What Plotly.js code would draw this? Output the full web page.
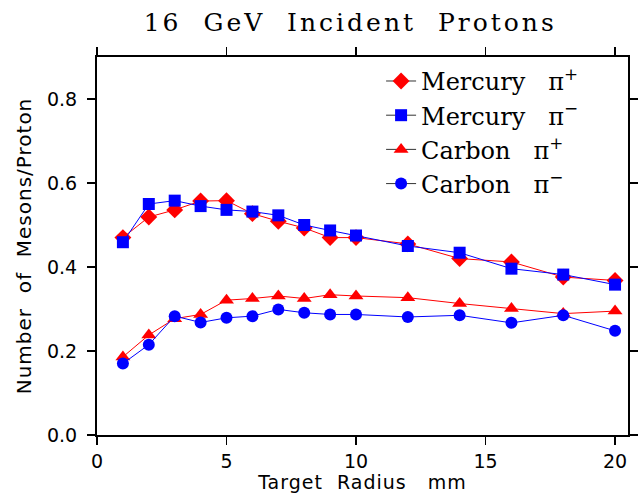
<!DOCTYPE html>
<html>
<head>
<meta charset="utf-8">
<script src="https://cdn.plot.ly/plotly-3.0.1.min.js"></script>
<style>
html,body{margin:0;padding:0;background:#fff;}
#chart{width:638px;height:493px;}
#chart .gtitle{letter-spacing:3px;}
#chart .xtitle, #chart .ytitle{letter-spacing:1px;}
</style>
</head>
<body>
<div id="chart"></div>
<script>
var radius = [1, 2, 3, 4, 5, 6, 7, 8, 9, 10, 12, 14, 16, 18, 20];
var mercuryPiPlus  = [0.470, 0.519, 0.536, 0.557, 0.558, 0.527, 0.509, 0.493, 0.470, 0.470, 0.455, 0.420, 0.412, 0.376, 0.368];
var mercuryPiMinus = [0.459, 0.550, 0.558, 0.545, 0.536, 0.532, 0.523, 0.500, 0.487, 0.475, 0.450, 0.434, 0.396, 0.382, 0.358];
var carbonPiPlus   = [0.186, 0.238, 0.277, 0.287, 0.321, 0.325, 0.331, 0.325, 0.334, 0.331, 0.327, 0.313, 0.301, 0.289, 0.295];
var carbonPiMinus  = [0.170, 0.215, 0.283, 0.268, 0.279, 0.283, 0.299, 0.291, 0.287, 0.287, 0.281, 0.285, 0.267, 0.285, 0.248];
var seriesNames = ["Mercury   π<sup>+</sup>", "Mercury   π<sup>−</sup>", "Carbon   π<sup>+</sup>", "Carbon   π<sup>−</sup>"];
var xTicks = [0, 5, 10, 15, 20];
var xTickText = ['0', '5', '10', '15', '20'];
var yTicks = [0, 0.2, 0.4, 0.6, 0.8];
var yTickText = ['0.0', '0.2', '0.4', '0.6', '0.8'];

var RED = '#ff0000', BLUE = '#0000ff';
function mk(y, color, symbol, size) {
  return {x: radius, y: y, mode: 'lines+markers', type: 'scatter', showlegend: false,
    line: {color: color, width: 1}, marker: {color: color, symbol: symbol, size: size}};
}
function lg(name, color, symbol, size) {
  return {x: [null], y: [null], mode: 'lines+markers', type: 'scatter', name: name,
    line: {color: '#333333', width: 1}, marker: {color: color, symbol: symbol, size: size}};
}
var data = [
  mk(mercuryPiPlus, RED, 'diamond', 13),
  mk(mercuryPiMinus, BLUE, 'square', 12),
  mk(carbonPiPlus, RED, 'triangle-up', 13),
  mk(carbonPiMinus, BLUE, 'circle', 12),
  lg(seriesNames[0], RED, 'diamond', 13),
  lg(seriesNames[1], BLUE, 'square', 12),
  lg(seriesNames[2], RED, 'triangle-up', 13),
  lg(seriesNames[3], BLUE, 'circle', 12)
];
var tickFont = {family: 'DejaVu Sans, sans-serif', size: 19, color: '#000'};
var layout = {
  width: 638, height: 493,
  margin: {l: 97, r: 10, t: 57, b: 58},
  paper_bgcolor: '#fff', plot_bgcolor: '#fff',
  title: {text: '16  GeV  Incident  Protons', x: 0.549, xanchor: 'center', y: 0.955, yanchor: 'middle',
    font: {family: 'DejaVu Serif, serif', size: 25, color: '#000'}},
  xaxis: {range: [0, 20.5], tickvals: xTicks, ticktext: xTickText,
    ticks: 'outside', ticklen: 8, tickwidth: 1.5, tickcolor: '#000',
    showline: true, linecolor: '#000', linewidth: 2, mirror: 'ticks', showgrid: false, zeroline: false,
    tickfont: tickFont,
    title: {text: 'Target  Radius   mm', standoff: 3, font: {family: 'DejaVu Sans, sans-serif', size: 19, color: '#000'}}},
  yaxis: {range: [0, 0.9], tickvals: yTicks, ticktext: yTickText,
    ticks: 'outside', ticklen: 8, tickwidth: 1.5, tickcolor: '#000', ticklabelstandoff: 6,
    showline: true, linecolor: '#000', linewidth: 2, mirror: 'ticks', showgrid: false, zeroline: false,
    tickfont: tickFont,
    title: {text: 'Number  of  Mesons/Proton', standoff: 10, font: {family: 'DejaVu Sans, sans-serif', size: 20, color: '#000'}}},
  legend: {x: 0.535, y: 0.995, xanchor: 'left', yanchor: 'top', bgcolor: 'rgba(0,0,0,0)',
    font: {family: 'DejaVu Serif, serif', size: 24, color: '#000'}, tracegroupgap: 0},
  showlegend: true
};
Plotly.newPlot('chart', data, layout, {displayModeBar: false, staticPlot: true});
</script>
</body>
</html>
